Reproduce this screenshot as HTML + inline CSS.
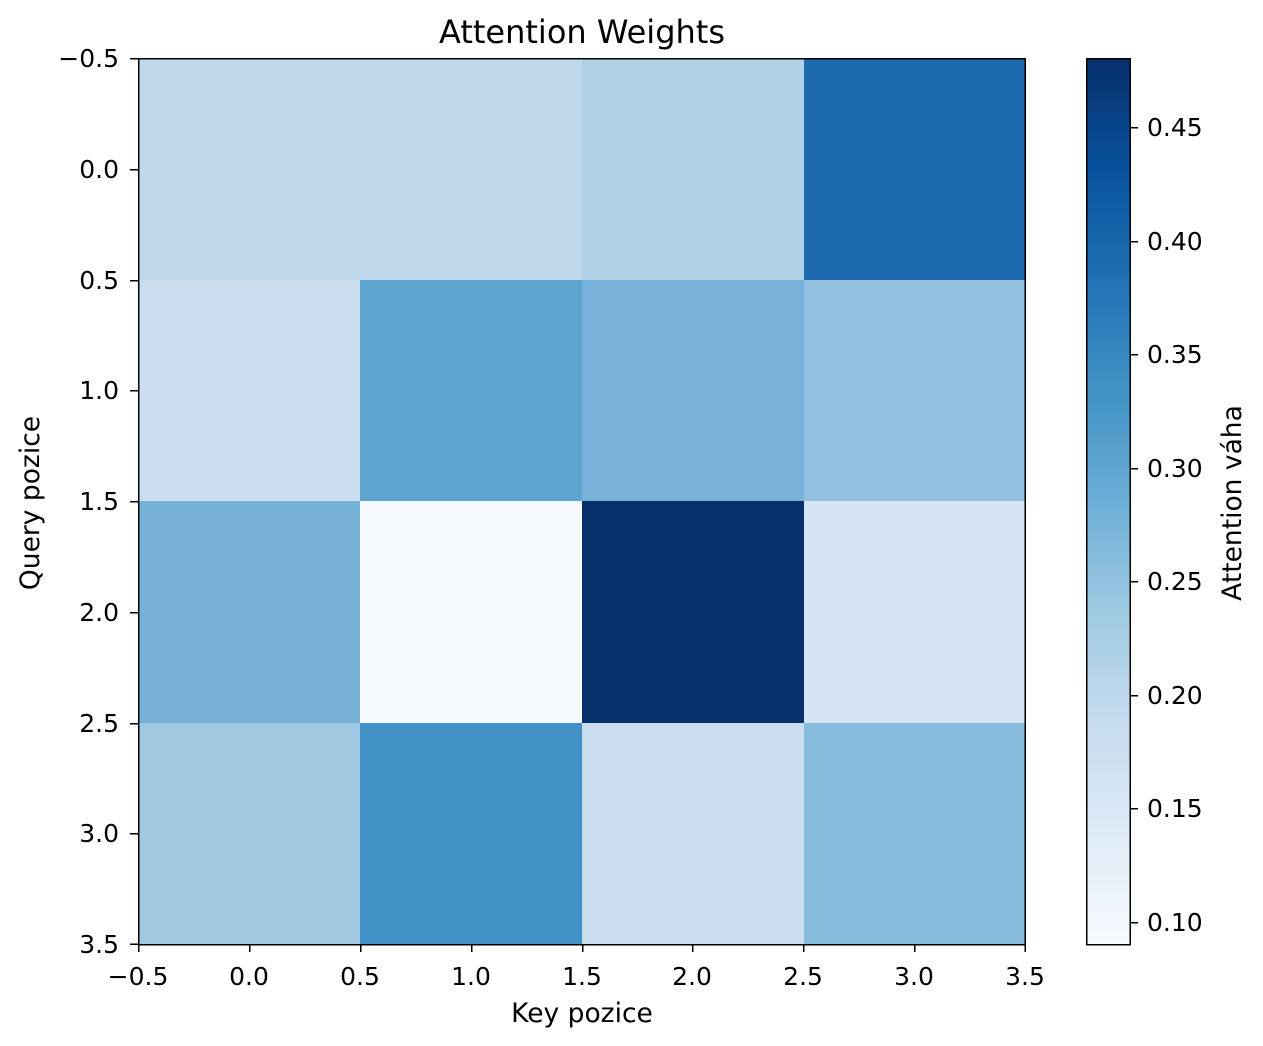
<!DOCTYPE html>
<html><head><meta charset="utf-8"><style>body{margin:0;background:#fff}svg{display:block}text{font-family:"DejaVu Sans","Liberation Sans",sans-serif;fill:#000}</style></head>
<body>
<svg width="1263" height="1046" viewBox="0 0 1263 1046" xmlns="http://www.w3.org/2000/svg">
<defs><linearGradient id="g" x1="0" y1="1" x2="0" y2="0">
<stop offset="0" stop-color="#f7fbff"/><stop offset="0.125" stop-color="#deebf7"/><stop offset="0.25" stop-color="#c6dbef"/><stop offset="0.375" stop-color="#9ecae1"/><stop offset="0.5" stop-color="#6baed6"/><stop offset="0.625" stop-color="#4292c6"/><stop offset="0.75" stop-color="#2171b5"/><stop offset="0.875" stop-color="#08519c"/><stop offset="1" stop-color="#08306b"/></linearGradient></defs>
<g shape-rendering="crispEdges">
<rect x="138" y="58" width="222" height="222" fill="#c1d9ec"/><rect x="360" y="58" width="222" height="222" fill="#c1d9ec"/><rect x="582" y="58" width="222" height="222" fill="#afd1e5"/><rect x="804" y="58" width="221" height="222" fill="#1d6aaf"/>
<rect x="138" y="280" width="222" height="221" fill="#cadeef"/><rect x="360" y="280" width="222" height="221" fill="#5ea5d0"/><rect x="582" y="280" width="222" height="221" fill="#77b3d8"/><rect x="804" y="280" width="221" height="221" fill="#92c1df"/>
<rect x="138" y="501" width="222" height="222" fill="#76b2d8"/><rect x="360" y="501" width="222" height="222" fill="#f6faff"/><rect x="582" y="501" width="222" height="222" fill="#08306b"/><rect x="804" y="501" width="221" height="222" fill="#d5e5f4"/>
<rect x="138" y="723" width="222" height="221" fill="#a0c8e1"/><rect x="360" y="723" width="222" height="221" fill="#4191c6"/><rect x="582" y="723" width="222" height="221" fill="#cadef0"/><rect x="804" y="723" width="221" height="221" fill="#87bbdc"/>
<rect x="138.5" y="58.5" width="886.5" height="886" fill="none" stroke="#000" stroke-width="1.5"/>
<rect x="1086" y="58" width="44" height="886" fill="url(#g)"/>
<rect x="1086.5" y="58.5" width="43.5" height="886" fill="none" stroke="#000" stroke-width="1.5"/>
<g stroke="#000" stroke-width="1.5">
<path d="M138.5 944v8M249.5 944v8M360.5 944v8M471.5 944v8M582.5 944v8M692.5 944v8M803.5 944v8M914.5 944v8M1025 944v8"/>
<path d="M138 58.5h-8M138 169.5h-8M138 280.5h-8M138 390.5h-8M138 501.5h-8M138 612.5h-8M138 723.5h-8M138 833.5h-8M138 944h-8"/>
<path d="M1130 127.5h8M1130 241.5h8M1130 354.5h8M1130 468.5h8M1130 581.5h8M1130 695.5h8M1130 808.5h8M1130 922.5h8"/>
</g></g>
<g font-size="25" text-anchor="middle">
<text x="138" y="985">−0.5</text><text x="249" y="985">0.0</text><text x="360" y="985">0.5</text><text x="471" y="985">1.0</text><text x="582" y="985">1.5</text><text x="692" y="985">2.0</text><text x="803" y="985">2.5</text><text x="914" y="985">3.0</text><text x="1025" y="985">3.5</text>
</g>
<g font-size="25" text-anchor="end">
<text x="119" y="67">−0.5</text><text x="119" y="178">0.0</text><text x="119" y="289">0.5</text><text x="119" y="399">1.0</text><text x="119" y="510">1.5</text><text x="119" y="621">2.0</text><text x="119" y="732">2.5</text><text x="119" y="842">3.0</text><text x="119" y="953">3.5</text>
</g>
<g font-size="25">
<text x="1147" y="136">0.45</text><text x="1147" y="250">0.40</text><text x="1147" y="363">0.35</text><text x="1147" y="477">0.30</text><text x="1147" y="590">0.25</text><text x="1147" y="704">0.20</text><text x="1147" y="817">0.15</text><text x="1147" y="931">0.10</text>
</g>
<text x="582" y="1022" font-size="26.5" text-anchor="middle">Key pozice</text>
<text transform="translate(39,503) rotate(-90)" font-size="26.5" text-anchor="middle">Query pozice</text>
<text transform="translate(1241,503) rotate(-90)" font-size="26.5" text-anchor="middle">Attention váha</text>
<text x="582" y="43" font-size="32" text-anchor="middle">Attention Weights</text>
</svg>
</body></html>
